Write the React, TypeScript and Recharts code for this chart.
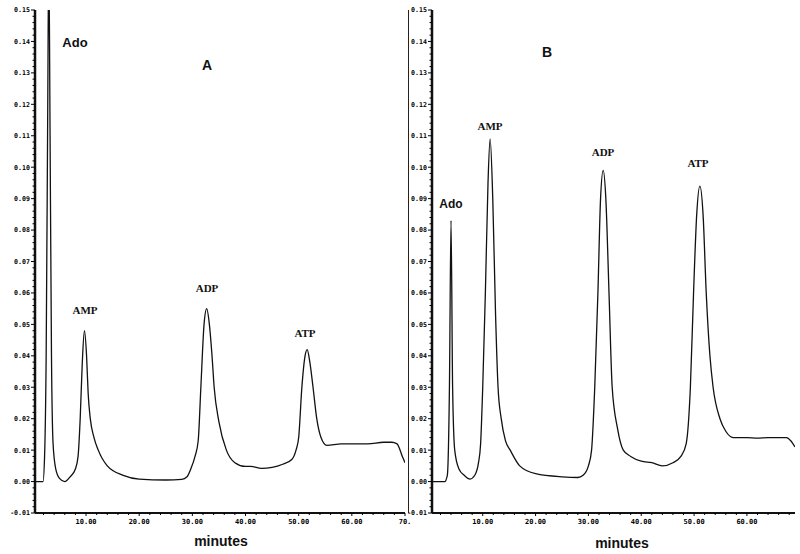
import React from "react";
import { LineChart, Line, XAxis, YAxis } from "recharts";

// Panel A: time (min) and absorbance
const aTime = [
  0, 1.9, 2.2, 2.5, 2.8, 3.0, 3.2, 3.5, 3.8, 4.3, 5.0, 6.0, 7.0, 8.0, 8.5, 8.9, 9.3, 9.7, 10.1, 10.4,
  10.8, 11.5, 12.3, 14, 17, 20, 25, 28, 29, 29.7, 30.5, 31.1, 31.6, 32.2, 32.7, 33.2, 33.7, 34.1, 35,
  36.4, 38, 40, 41, 43, 45, 47, 48.7, 49.5, 50, 50.6, 51.2, 51.6, 52.1, 52.7, 53.4, 54.2, 55.3, 58, 60,
  63, 66, 67.5, 68.5, 69.5, 70,
];
const aAbs = [
  0, 0, 0.008, 0.04, 0.12, 0.17, 0.12, 0.04, 0.012, 0.004, 0.001, 0, 0.0015, 0.004, 0.008, 0.02, 0.038,
  0.048, 0.04, 0.028, 0.02, 0.014, 0.01, 0.005, 0.002, 0.0008, 0.0005, 0.0007, 0.0015, 0.004, 0.008,
  0.013, 0.03, 0.05, 0.055, 0.05, 0.04, 0.03, 0.019, 0.01, 0.006, 0.0048, 0.0048, 0.0042, 0.0045, 0.0055,
  0.007, 0.01, 0.014, 0.03, 0.04, 0.042, 0.038, 0.03, 0.02, 0.014, 0.0115, 0.012, 0.012, 0.012, 0.0125,
  0.0125, 0.012, 0.008, 0.006,
];

// Panel B
const bTime = [
  0, 2.8, 3.3, 3.7, 4.0, 4.3, 4.7, 5.5, 6.5, 7.6, 8.5, 9.2, 9.6, 10, 10.5, 11, 11.4, 11.9, 12.4, 12.9,
  13.5, 14.3, 15.2, 17, 20, 25, 28, 29, 30, 30.6, 31.2, 31.8, 32.3, 32.8, 33.3, 33.9, 34.5, 35.5, 36.6,
  38, 40, 42, 44, 46, 47.5, 48.5, 49.3, 49.9, 50.5, 51.1, 51.7, 52.3, 53, 53.6, 54.9, 56, 57.4, 60, 62,
  64, 67.5, 68.3, 69.1,
];
const bAbs = [
  0, 0, 0.002, 0.03, 0.083, 0.03, 0.01, 0.004, 0.002, 0.0008, 0.002, 0.006, 0.012, 0.03, 0.06, 0.095,
  0.109, 0.09, 0.055, 0.03, 0.02, 0.013, 0.01, 0.005, 0.0025, 0.0015, 0.0013, 0.002, 0.005, 0.01, 0.03,
  0.06, 0.09, 0.099, 0.09, 0.06, 0.03, 0.017, 0.01, 0.008, 0.0065, 0.006, 0.005, 0.006, 0.008, 0.012,
  0.03, 0.06, 0.085, 0.094, 0.085, 0.06, 0.04, 0.03, 0.02, 0.016, 0.014, 0.014, 0.0138, 0.014, 0.014,
  0.013, 0.011,
];

const yMajor = [-0.01, 0, 0.01, 0.02, 0.03, 0.04, 0.05, 0.06, 0.07, 0.08, 0.09, 0.1, 0.11, 0.12, 0.13, 0.14, 0.15];
const xMajorA = [10, 20, 30, 40, 50, 60, 70];
const xMajorB = [10, 20, 30, 40, 50, 60];
// the last label of panel A is cut by the panel edge in the scan
const xLabelA = ["10.00", "20.00", "30.00", "40.00", "50.00", "60.00", "70."];
const xLabelB = ["10.00", "20.00", "30.00", "40.00", "50.00", "60.00"];

const yTicks: number[] = [];
for (let i = 0; i <= 80; i++) yTicks.push((i * 2 - 10) / 1000);
const xTicksFor = (maxT: number) => {
  const out: number[] = [];
  for (let t = 2; t <= maxT; t += 2) out.push(t);
  return out;
};

const aData = aTime.map((t, i) => ({ t, v: aAbs[i] }));
const bData = bTime.map((t, i) => ({ t, v: bAbs[i] }));

const MONO = "'DejaVu Sans Mono', 'Liberation Mono', monospace";
const SANS = "'Liberation Sans', Arial, sans-serif";
const SERIF = "'Liberation Serif', 'Times New Roman', serif";

function YTick({ x, y, payload }: any) {
  const v = payload.value as number;
  const major = yMajor.some((m) => Math.abs(m - v) < 1e-6);
  return (
    <g>
      <line x1={x} x2={x - (major ? 4 : 2.5)} y1={y} y2={y} stroke="#000" strokeWidth={1} />
      {major && (
        <text x={x - 5} y={y} dy={2.4} textAnchor="end" fontSize={6.6} fontWeight="bold" fontFamily={MONO} fill="#000">
          {v.toFixed(2)}
        </text>
      )}
    </g>
  );
}

function makeXTick(majors: number[], labels: string[]) {
  return ({ x, y, payload }: any) => {
    const v = payload.value as number;
    const idx = majors.indexOf(v);
    const major = idx >= 0;
    return (
      <g>
        <line x1={x} x2={x} y1={y} y2={y + (major ? 3 : 2)} stroke="#000" strokeWidth={1} />
        {major && (
          <text x={x} y={y + 11} textAnchor="middle" fontSize={7} fontWeight="bold" fontFamily={MONO} fill="#000">
            {labels[idx]}
          </text>
        )}
      </g>
    );
  };
}

function Tag({ x, y, text, font, size }: { x: number; y: number; text: string; font: string; size: number }) {
  return (
    <div
      style={{
        position: "absolute",
        left: x,
        top: y,
        transform: "translate(-50%, -50%)",
        fontFamily: font,
        fontSize: size,
        fontWeight: "bold",
        color: "#111",
        whiteSpace: "nowrap",
        lineHeight: 1,
      }}
    >
      {text}
    </div>
  );
}

function Panel({ data, xMax, majors, labels, width, left, right }: any) {
  const xt = [...xTicksFor(xMax), ...majors.filter((m: number) => m % 2 !== 0)];
  return (
    <LineChart width={width} height={554} data={data} margin={{ top: 10, right, bottom: 11, left }}>
      <XAxis
        dataKey="t"
        type="number"
        domain={[0.4, xMax]}
        ticks={xt}
        interval={0}
        tickSize={0}
        tickMargin={0}
        tickLine={false}
        tick={makeXTick(majors, labels)}
        axisLine={{ stroke: "#111", strokeWidth: 2 }}
        height={30}
        allowDataOverflow
      />
      <YAxis
        type="number"
        domain={[-0.01, 0.15]}
        ticks={yTicks}
        interval={0}
        tickSize={0}
        tickMargin={0}
        tickLine={false}
        tick={<YTick />}
        axisLine={{ stroke: "#111", strokeWidth: 2.5 }}
        width={30}
        allowDataOverflow
      />
      <Line
        dataKey="v"
        type="monotone"
        stroke="#111"
        strokeWidth={1.3}
        dot={false}
        isAnimationActive={false}
      />
    </LineChart>
  );
}

export default function App() {
  return (
    <div style={{ position: "absolute", left: 0, top: 0, width: 800, height: 554, background: "#fff", overflow: "hidden" }}>
      <div style={{ position: "absolute", left: 0, top: 0, width: 412, height: 554 }}>
        <Panel data={aData} xMax={70} majors={xMajorA} labels={xLabelA} width={412} left={5} right={7} />
      </div>
      <div style={{ position: "absolute", left: 400, top: 0, width: 400, height: 554 }}>
        <Panel data={bData} xMax={69.1} majors={xMajorB} labels={xLabelB} width={400} left={2} right={5} />
      </div>
      <div style={{ position: "absolute", left: 408, top: 10, width: 1, height: 503, background: "#222" }} />

      <Tag x={75} y={42} text="Ado" font={SANS} size={13} />
      <Tag x={207} y={65} text="A" font={SANS} size={14} />
      <Tag x={85} y={310} text="AMP" font={SERIF} size={11} />
      <Tag x={207} y={288} text="ADP" font={SERIF} size={11} />
      <Tag x={305} y={333} text="ATP" font={SERIF} size={11} />
      <Tag x={221} y={541} text="minutes" font={SANS} size={14} />

      <Tag x={547} y={52} text="B" font={SANS} size={14} />
      <Tag x={451} y={204} text="Ado" font={SANS} size={12} />
      <Tag x={490} y={126} text="AMP" font={SERIF} size={11} />
      <Tag x={603} y={152} text="ADP" font={SERIF} size={11} />
      <Tag x={698} y={163} text="ATP" font={SERIF} size={11} />
      <Tag x={622} y={543} text="minutes" font={SANS} size={14} />
    </div>
  );
}
